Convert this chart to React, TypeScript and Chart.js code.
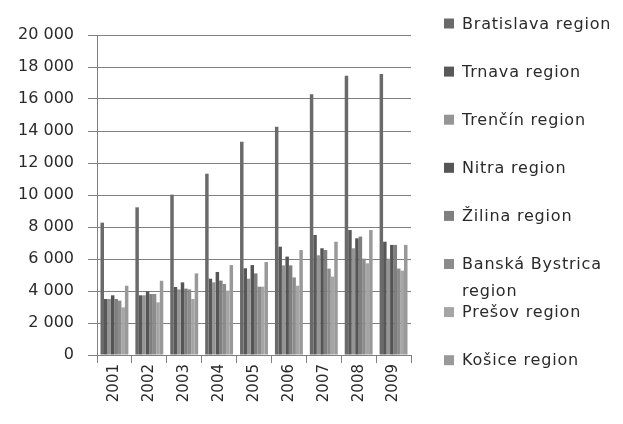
import React, { useEffect, useRef } from "react";
import { Chart, registerables } from "chart.js";

Chart.register(...registerables);

const years = ["2001", "2002", "2003", "2004", "2005", "2006", "2007", "2008", "2009"];

const bratislava = [8270, 9230, 10020, 11330, 13330, 14270, 16290, 17460, 17560];
const trnava = [3500, 3730, 4250, 4770, 5420, 6770, 7500, 7810, 7080];
const trencin = [3500, 3730, 4100, 4540, 4770, 5600, 6230, 6670, 6020];
const nitra = [3730, 3980, 4540, 5190, 5620, 6150, 6670, 7290, 6880];
const zilina = [3500, 3810, 4150, 4650, 5100, 5600, 6560, 7400, 6880];
const banskaBystrica = [3400, 3810, 4100, 4440, 4270, 4850, 5400, 6020, 5400];
const presov = [2980, 3290, 3500, 4020, 4270, 4330, 4900, 5730, 5270];
const kosice = [4330, 4640, 5100, 5620, 5810, 6560, 7080, 7810, 6880];

const seriesNames = [
  "Bratislava region",
  "Trnava region",
  "Trenčín region",
  "Nitra region",
  "Žilina region",
  "Banská Bystrica region",
  "Prešov region",
  "Košice region",
];
const seriesValues = [bratislava, trnava, trencin, nitra, zilina, banskaBystrica, presov, kosice];
const seriesColors = ["#6a6a6a", "#585858", "#959595", "#555555", "#7f7f7f", "#8c8c8c", "#a5a5a5", "#999999"];

const yTicks = { min: 0, max: 20000, step: 2000 };

const fmt = (v: number) => String(v).replace(/\B(?=(\d{3})+(?!\d))/g, " ");

const legendPlugin = {
  id: "sideLegend",
  afterDraw(chart: any) {
    const ctx = chart.ctx;
    ctx.save();
    ctx.font = "16px 'DejaVu Sans'";
    try {
      (ctx as any).letterSpacing = "0.8px";
    } catch (e) {}
    ctx.textBaseline = "middle";
    ctx.textAlign = "left";
    chart.data.datasets.forEach((ds: any, i: number) => {
      const y = 23.5 + i * 48.1;
      ctx.fillStyle = ds.backgroundColor;
      ctx.fillRect(444, y - 5, 10, 10);
      ctx.fillStyle = "#2a2a2a";
      const label: string = ds.label;
      if (label === "Banská Bystrica region") {
        ctx.fillText("Banská Bystrica", 462, y + 1);
        ctx.fillText("region", 462, y + 28);
      } else {
        ctx.fillText(label, 462, y + 1);
      }
    });
    ctx.restore();
  },
};

export default function App() {
  const ref = useRef<HTMLCanvasElement>(null);
  useEffect(() => {
    if (!ref.current) return;
    const chart = new Chart(ref.current, {
      type: "bar",
      data: {
        labels: years,
        datasets: seriesNames.map((name, i) => ({
          label: name,
          data: seriesValues[i],
          backgroundColor: seriesColors[i],
          borderWidth: 0,
          categoryPercentage: 0.8,
          barPercentage: 1.0,
        })),
      },
      options: {
        responsive: false,
        animation: false,
        devicePixelRatio: 1,
        layout: { padding: { left: 0, top: 35, right: 212, bottom: 0 } },
        plugins: { legend: { display: false }, tooltip: { enabled: false } },
        scales: {
          x: {
            grid: { drawOnChartArea: false, drawTicks: true, tickLength: 8, color: "#808080", offset: true },
            border: { color: "#808080" },
            ticks: {
              minRotation: 90,
              maxRotation: 90,
              padding: 1,
              color: "#2a2a2a",
              font: { family: "'DejaVu Sans'", size: 15 },
            },
            afterFit: (s: any) => {
              s.height = 69;
            },
          },
          y: {
            min: yTicks.min,
            max: yTicks.max,
            grid: { color: "#808080", tickLength: 9 },
            border: { color: "#808080" },
            ticks: {
              stepSize: yTicks.step,
              padding: 14,
              color: "#2a2a2a",
              font: { family: "'DejaVu Sans'", size: 16 },
              callback: (v: any) => fmt(Number(v)),
            },
            afterFit: (s: any) => {
              s.width = 97;
            },
          },
        },
      },
      plugins: [legendPlugin],
    });
    return () => chart.destroy();
  }, []);
  return (
    <div style={{ position: "fixed", left: 0, top: 0, width: 623, height: 424, background: "#fff" }}>
      <canvas ref={ref} width={623} height={424} />
    </div>
  );
}
